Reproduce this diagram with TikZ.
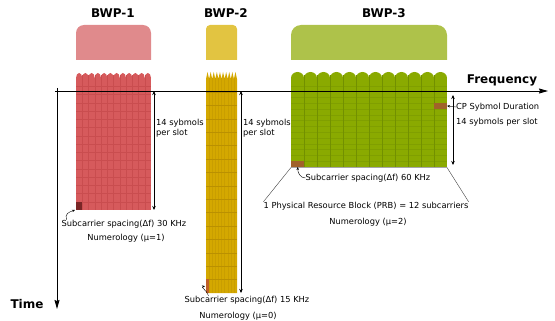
\documentclass[tikz,border=0pt]{standalone}
\usepackage{fontspec}
\setmainfont{DejaVu Sans}
\usetikzlibrary{arrows.meta,positioning,calc}
\definecolor{bwpred}{RGB}{214,90,92}
\definecolor{bwpredlight}{RGB}{224,138,140}
\definecolor{bwpredline}{RGB}{192,68,70}
\definecolor{bwpreddark}{RGB}{122,38,38}
\definecolor{bwpgold}{RGB}{212,168,0}
\definecolor{bwpgoldlight}{RGB}{226,196,65}
\definecolor{bwpgoldline}{RGB}{180,138,0}
\definecolor{bwpgolddark}{RGB}{192,96,40}
\definecolor{bwpgreen}{RGB}{138,170,0}
\definecolor{bwpgreenlight}{RGB}{174,194,74}
\definecolor{bwpgreenline}{RGB}{108,138,0}
\definecolor{bwpbrown}{RGB}{160,98,42}

% cap over a bandwidth part: colour, left, right, top, bottom, corner radius
\newcommand{\bwpcap}[6]{%
  \fill[#1] (#2,#5) -- (#2,#4+#6) arc[start angle=180, end angle=90, radius=#6pt]
    -- (#3-#6,#4) arc[start angle=90, end angle=0, radius=#6pt] -- (#3,#5) -- cycle;}

\begin{document}
\begin{tikzpicture}[x=1pt, y=-1pt,
    font=\fontsize{8.3}{10}\selectfont,
    title/.style={font=\fontsize{12}{14}\selectfont\bfseries},
    note/.style={inner sep=0pt},
    cell/.style={inner sep=0pt, anchor=south west},
    span/.style={{Stealth[length=4pt,width=3.5pt]}-{Stealth[length=4pt,width=3.5pt]}, line width=0.6pt},
    axis/.style={-{Stealth[length=9pt,width=5pt,inset=1pt]}, line width=0.8pt},
    pointer/.style={-{Stealth[length=3pt,width=2.5pt]}, line width=0.4pt}]
    \useasboundingbox (0,0) rectangle (555,321);

    % Caps
    \bwpcap{bwpredlight}{76}{151}{25}{60}{8}
    \bwpcap{bwpgoldlight}{206}{237}{25}{60}{4}
    \bwpcap{bwpgreenlight}{291}{447}{25}{60}{10}

    % BWP-1 grid
    \fill[bwpred] (76,78) rectangle (151,210);
    \foreach \i in {0,...,11}
        \fill[bwpred] ({76+6.25*\i+3.125},78) ellipse[x radius=3.125pt, y radius=5pt];
    \foreach \i in {1,...,11}
        \draw[bwpredline!60!bwpred, line width=0.35pt] ({76+6.25*\i},75) -- ({76+6.25*\i},210);
    \foreach \j in {1,...,15}
        \draw[bwpredline!60!bwpred, line width=0.35pt] (76,{78+8.25*\j}) -- (151,{78+8.25*\j});

    % BWP-2 grid
    \fill[bwpgold] (206,293) -- (206,79)
        \foreach \i in {0,...,9} { -- ({206+3.1*\i+1.55},72) -- ({206+3.1*\i+3.1},79) }
        -- (237,293) -- cycle;
    \foreach \i in {1,...,9}
        \draw[bwpgoldline!35!bwpgold, line width=0.3pt] ({206+3.1*\i},78) -- ({206+3.1*\i},293);
    \foreach \j in {0,...,14}
        \draw[bwpgoldline!80!bwpgold, line width=0.45pt] (206,{92+13.4*\j}) -- (237,{92+13.4*\j});

    % BWP-3 grid
    \fill[bwpgreen] (291,78) rectangle (447,167);
    \foreach \i in {0,...,11}
        \fill[bwpgreen] ({291+13*\i+6.5},78) ellipse[x radius=6.5pt, y radius=6pt];
    \foreach \j in {1,...,14}
        \draw[bwpgreenline!35!bwpgreen, line width=0.35pt] (291,{167-5.8*\j}) -- (447,{167-5.8*\j});
    \foreach \i in {1,...,11}
        \draw[bwpgreenline!80!bwpgreen, line width=0.45pt] ({291+13*\i},75) -- ({291+13*\i},167);

    % Marked cells
    \node[cell, fill=bwpreddark, minimum width=6.25pt, minimum height=8.25pt] (cell1) at (76,210) {};
    \node[cell, fill=bwpgolddark, minimum width=2.6pt, minimum height=13.4pt] (cell2) at (206,293) {};
    \node[cell, fill=bwpbrown, minimum width=13pt, minimum height=5.8pt] (cell3a) at (291,167) {};
    \node[cell, fill=bwpbrown, minimum width=13pt, minimum height=5.8pt, anchor=south east] (cell3b) at (447,109) {};

    % Titles
    \node[title] (bwp1) at (113,13) {BWP-1};
    \node[title] (bwp2) at (226,13) {BWP-2};
    \node[title] (bwp3) at (384,13) {BWP-3};
    \node[title] (freq) at (502,80) {Frequency};
    \node[title] (time) at (27,304) {Time};

    % Labels
    \node[note, align=left, anchor=west] (sym1) at (156,128) {14 sybmols\\per slot};
    \node[note, align=left, anchor=west] (sym2) at (243,128) {14 sybmols\\per slot};
    \node[note, anchor=west] (cp) at (456,107) {CP Sybmol Duration};
    \node[note, anchor=west] (sym3) at (456,122) {14 sybmols per slot};
    \node[note] (sc1) at (124,224) {Subcarrier spacing(Δf) 30 KHz};
    \node[note] (num1) at (126,238) {Numerology (μ=1)};
    \node[note] (sc2) at (247,300) {Subcarrier spacing(Δf) 15 KHz};
    \node[note] (num2) at (238,316) {Numerology (μ=0)};
    \node[note] (sc3) at (368,178) {Subcarrier spacing(Δf) 60 KHz};
    \node[note] (prb) at (366,206) {1 Physical Resource Block (PRB) = 12 subcarriers};
    \node[note] (num3) at (368,222) {Numerology (μ=2)};

    % Axes
    \coordinate (forigin) at (55,91);
    \coordinate (fend) at (548,91);
    \coordinate (torigin) at (57,88);
    \coordinate (tend) at (57,309);
    \draw[axis] (forigin) -- (fend);
    \draw[axis] (torigin) -- (tend);

    % Slot spans
    \coordinate (s1a) at (154,91);
    \coordinate (s1b) at (154,210);
    \coordinate (s2a) at (241,91);
    \coordinate (s2b) at (241,293);
    \coordinate (s3a) at (453,95);
    \coordinate (s3b) at (453,165);
    \draw[span] (s1a) -- (s1b);
    \draw[span] (s2a) -- (s2b);
    \draw[span] (s3a) -- (s3b);

    % PRB outline
    \coordinate (g3sw) at (291,167.5);
    \coordinate (g3se) at (447,167.5);
    \draw[gray!70, line width=0.8pt] (g3sw) -- (g3se);
    \draw[black!75, line width=0.4pt] (g3sw) -- (prb.north west);
    \draw[black!75, line width=0.4pt] (g3se) -- (prb.north east);

    % Pointers
    \draw[pointer] ([xshift=5pt]sc1.north west) .. controls +(-2,-6) and +(-6,2) .. ([xshift=-1pt]cell1.south west);
    \draw[pointer] ([xshift=24pt]sc2.north west) .. controls +(-1,-5) and +(-5,1) .. ([xshift=-1pt]cell2.west);
    \draw[pointer] (sc3.west) .. controls +(-5,0) and +(0,6) .. (cell3a.south);
    \draw[pointer] (cp.west) -- (cell3b.east);
\end{tikzpicture}
\end{document}
